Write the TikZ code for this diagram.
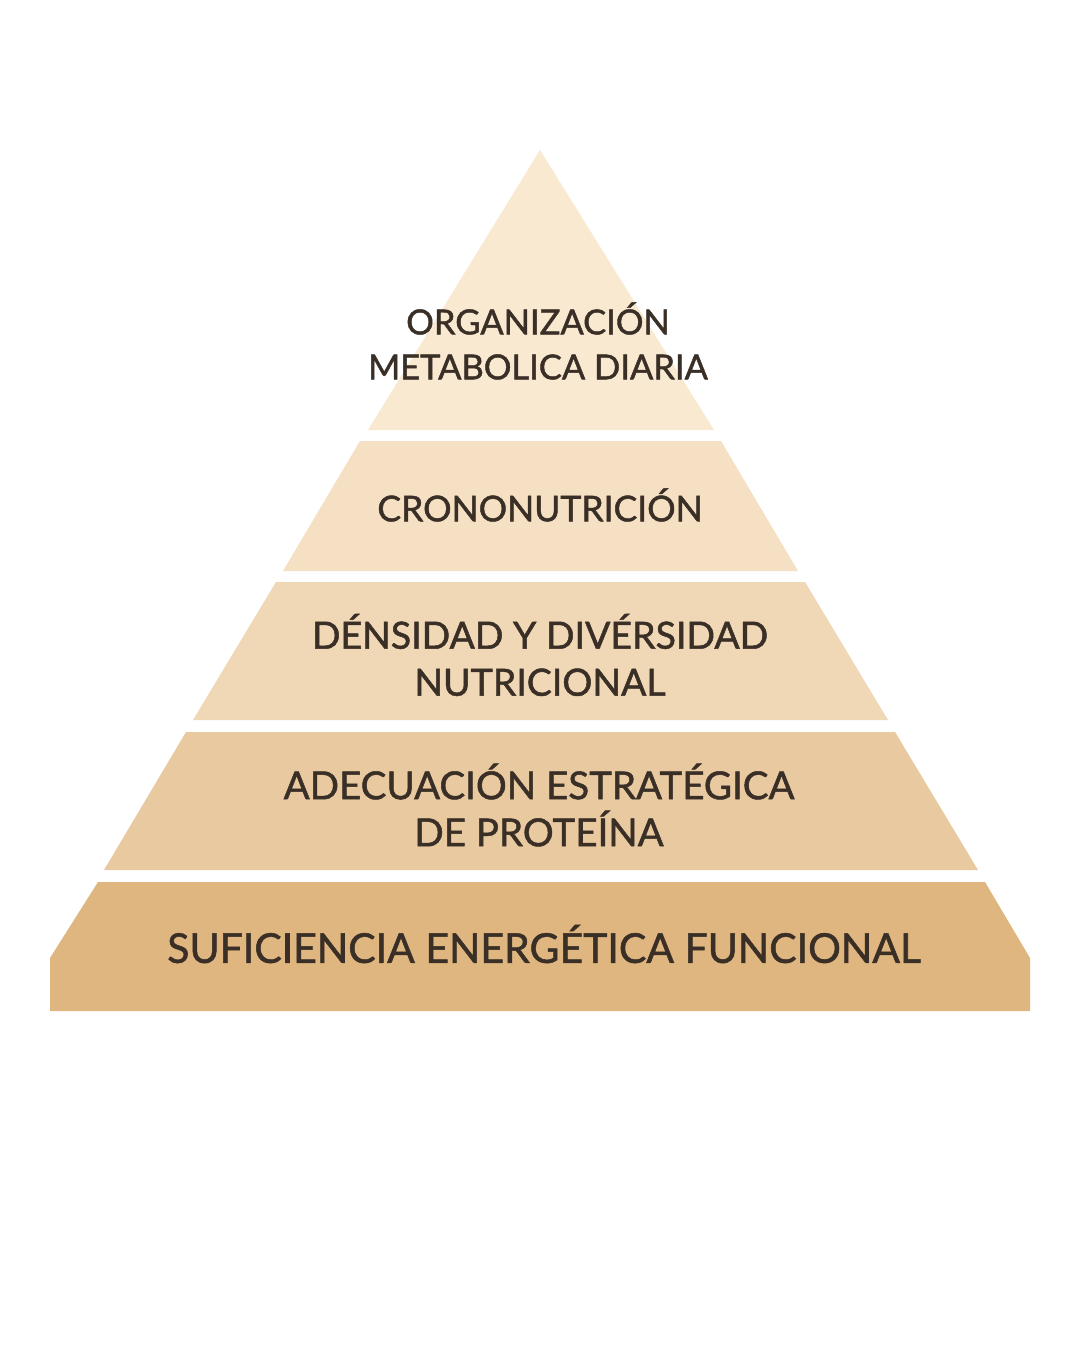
\documentclass[tikz,border=0pt]{standalone}
\usepackage{fontspec}
\usepackage{tikz}
\usetikzlibrary{positioning,calc}
\newfontfamily\pyrfont{Lato}[FakeBold=1.3]
\definecolor{tierA}{HTML}{FAE9D1}
\definecolor{tierB}{HTML}{F5E0C3}
\definecolor{tierC}{HTML}{F0D7B6}
\definecolor{tierD}{HTML}{E8C9A0}
\definecolor{tierE}{HTML}{DFB680}
\definecolor{inkbrown}{HTML}{3A2F26}
\tikzset{
  tier/.style={draw=none},
  tierlabel/.style={text=inkbrown, align=center, inner sep=0pt},
  smalllbl/.style={tierlabel, font=\pyrfont\fontsize{34.5}{45}\selectfont},
  midlbl/.style={tierlabel, font=\pyrfont\fontsize{37.5}{47}\selectfont},
  biglbl/.style={tierlabel, font=\pyrfont\fontsize{41}{48}\selectfont}
}

\begin{document}
\begin{tikzpicture}[x=1pt, y=-1pt]
    % Page
    \fill[white] (0,0) rectangle (1080,1350);
    \useasboundingbox (0,0) rectangle (1080,1350);

    % Top tier
    \fill[tier, tierA] (540,150) -- (714,430) -- (368,430) -- cycle;
    \node[smalllbl] (organizacion) at (538,341) {ORGANIZACIÓN\\METABOLICA DIARIA};

    % Second tier
    \fill[tier, tierB] (360,441) -- (721,441) -- (798,571) -- (283,571) -- cycle;
    \node[midlbl, font=\pyrfont\fontsize{35.5}{45}\selectfont] (crono) at (540,505) {CRONONUTRICIÓN};

    % Third tier
    \fill[tier, tierC] (276,582) -- (805,582) -- (888,720) -- (193,720) -- cycle;
    \node[midlbl] (densidad) at (540,655) {DÉNSIDAD Y DIVÉRSIDAD\\NUTRICIONAL};

    % Fourth tier
    \fill[tier, tierD] (186,732) -- (895,732) -- (978,870) -- (104,870) -- cycle;
    \node[midlbl, font=\pyrfont\fontsize{38.5}{47}\selectfont] (proteina) at (539,805) {ADECUACIÓN ESTRATÉGICA\\DE PROTEÍNA};

    % Base tier
    \fill[tier, tierE] (98,882) -- (985,882) -- (1030,958) -- (1030,1011)
        -- (50,1011) -- (50,958) -- cycle;
    \node[biglbl] (energia) at (544,944) {SUFICIENCIA ENERGÉTICA FUNCIONAL};
\end{tikzpicture}
\end{document}
